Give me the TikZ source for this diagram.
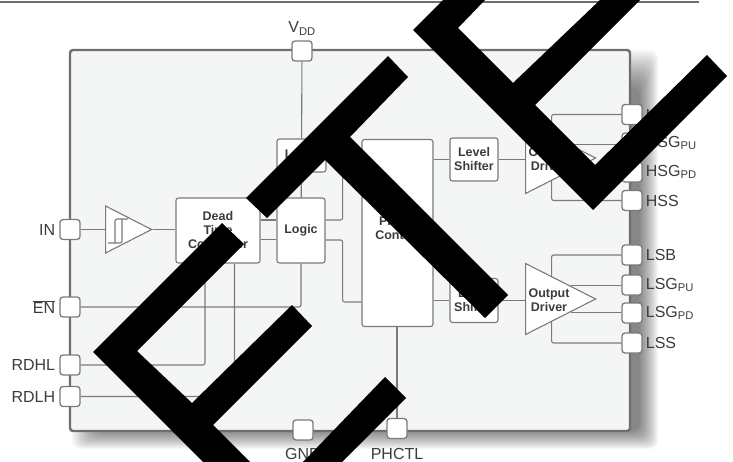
\documentclass[tikz,border=0pt]{standalone}
\usepackage{fontspec}
\setmainfont{Liberation Sans}
\usepackage{xcolor}
\usetikzlibrary{calc, shapes.geometric}
\definecolor{wireclr}{HTML}{7A7A7A}
\definecolor{edgeclr}{HTML}{6E6E6E}
\definecolor{chipclr}{HTML}{F4F6F5}
\definecolor{textclr}{HTML}{3C3C3C}
\tikzset{
  wire/.style={draw=wireclr, line width=1.1pt, rounded corners=2pt},
  pad/.style={draw=wireclr, fill=white, line width=1.3pt, rounded corners=3pt, inner sep=0pt, minimum width=20pt, minimum height=20pt},
  block/.style={draw=wireclr, fill=white, line width=1.1pt, rounded corners=2.5pt, inner sep=0pt, align=center, text=textclr, font=\fontsize{12.5}{14}\selectfont\bfseries},
  amp/.style={draw=wireclr, fill=white, line width=1.1pt, isosceles triangle, isosceles triangle stretches, inner sep=0pt, anchor=apex},
  amptext/.style={align=center, text=textclr, font=\fontsize{12.5}{14}\selectfont\bfseries},
  lbl/.style={text=textclr, inner sep=0pt, font=\fontsize{16}{18}\selectfont},
}
\begin{document}
\begin{tikzpicture}[x=1pt, y=-1pt]
    \useasboundingbox (0,0) rectangle (733,462);
    \coordinate (ruleL) at (0,2);
    \coordinate (ruleR) at (699,2);
    \draw[edgeclr, line width=2pt] (ruleL) -- (ruleR);
    % package
    \foreach \i in {0,...,19} {
      \fill[black, opacity=0.03, rounded corners=8pt] (72+1.5*\i,50+2*\i) rectangle (658-\i,449-\i);
    }
    \node[draw=edgeclr, fill=chipclr, line width=2.4pt, rounded corners=3pt, minimum width=560pt, minimum height=381pt, inner sep=0pt] (chip) at (350,240.5) {};
    % blocks
    \node[block, minimum width=84pt, minimum height=65pt] (dead) at (218,230.5) {Dead\\Time\\Controller};
    \node[block, minimum width=48pt, minimum height=65pt] (logicb) at (301,230.5) {Logic};
    \node[block, minimum width=49pt, minimum height=33pt] (logict) at (301.5,155.5) {Logic};
    \node[block, minimum width=71pt, minimum height=187pt] (ctrl) at (397.5,233) {};
    \node[amptext] (ctrlt) at (397.5,228.5) {Phase\\Control};
    \node[block, minimum width=48pt, minimum height=43pt] (shiftu) at (474,159.5) {Level\\Shifter};
    \node[block, minimum width=48pt, minimum height=44pt] (shiftl) at (474,300.5) {Level\\Shifter};
    % triangles
    \node[amp, minimum width=47pt, minimum height=46pt] (schmitt) at (153,229.5) {};
    \node[amp, minimum width=71pt, minimum height=70pt] (drvu) at (597,158) {};
    \node[amp, minimum width=71pt, minimum height=70pt] (drvl) at (597,299) {};
    \node[amptext] (drvut) at (549,159) {Output\\Driver};
    \node[amptext] (drvlt) at (549,300) {Output\\Driver};
    \draw[wire] (108,243) -- (122,243) -- (122,219);
    \draw[wire] (128,219) -- (115,219) -- (115,243);
    % pads on the left and right
    \foreach \n/\y/\t in {in/229.5/IN, en/307/$\overline{\mbox{EN}}$, rdhl/365/RDHL, rdlh/396.5/RDLH} {
      \node[pad] (\n) at (70,\y) {};
      \node[lbl, anchor=east] (\n t) at ([xshift=-4pt]\n.west) {\t};
    }
    \foreach \n/\y/\t in {hsb/114.5/HSB, hsgpu/143/HSG\textsubscript{PU}, hsgpd/172/HSG\textsubscript{PD}, hss/200.5/HSS, lsb/255/LSB, lsgpu/285/LSG\textsubscript{PU}, lsgpd/313/LSG\textsubscript{PD}, lss/343/LSS} {
      \node[pad] (\n) at (632,\y) {};
      \node[lbl, anchor=west] (\n t) at ([xshift=3pt]\n.east) {\t};
    }
    \node[pad] (vdd) at (302,51) {};
    \node[lbl, anchor=south] (vddt) at ([yshift=5pt]vdd.north) {V\textsubscript{DD}};
    \node[pad] (gnd) at (303,430) {};
    \node[lbl] (gndt) at (303,454) {GND};
    \node[pad] (phctl) at (397,428.5) {};
    \node[lbl] (phctlt) at (397,454) {PHCTL};
    % connections
    \draw[wire] (vdd) -- (logict);
    \draw[wire] (logict) -- (logicb);
    \draw[wire] (in) -- (schmitt.west);
    \draw[wire] (schmitt.apex) -- (dead.west |- schmitt.apex);
    \draw[wire] ([yshift=10.5pt]dead.east) -- ([yshift=10.5pt]logicb.west);
    \draw[wire] ([yshift=-9pt]dead.east) -- ([yshift=-9pt]logicb.west);
    \draw[wire] ([yshift=10.5pt]logicb.east) -- ++(17pt,0) |- ([yshift=68pt]ctrl.west);
    \draw[wire] ([yshift=-9.5pt]logicb.east) -- ++(17pt,0) |- ([yshift=-69pt]ctrl.west);
    \draw[wire] (en) -| (logicb);
    \draw[wire] (rdhl) -| ([xshift=-13pt]dead.south);
    \draw[wire] (rdlh) -| ([xshift=16.5pt]dead.south);
    \draw[wire] (phctl) -- (ctrl.south -| phctl);
    \draw[wire] (ctrl.east |- shiftu) -- (shiftu);
    \draw[wire] (ctrl.east |- shiftl) -- (shiftl);
    \draw[wire] (shiftu) -- (shiftu -| drvu.left corner);
    \draw[wire] (shiftl) -- (shiftl -| drvl.left corner);
    \foreach \d/\a/\b/\c/\e in {drvu/hsb/hsgpu/hsgpd/hss, drvl/lsb/lsgpu/lsgpd/lss} {
      \coordinate (\d a) at ($(\d.left corner)!0.37!(\d.apex)$);
      \coordinate (\d b) at ($(\d.left corner)!0.64!(\d.apex)$);
      \coordinate (\d c) at ($(\d.right corner)!0.64!(\d.apex)$);
      \coordinate (\d e) at ($(\d.right corner)!0.37!(\d.apex)$);
      \draw[wire] (\a) -| (\d a);
      \draw[wire] (\b.west |- \d b) -- (\d b);
      \draw[wire] (\c.west |- \d c) -- (\d c);
      \draw[wire] (\e) -| (\d e);
    }
    % black strokes on top
    \fill[black] (93,352) -- (222,223) -- (244,244) -- (137,351) -- (192,403) -- (292,305) -- (312,326) -- (213,425) -- (250,462) -- (203,462) -- cycle;
    \fill[black] (303,462) -- (385,377) -- (406,398) -- (342,462) -- cycle;
    \fill[black] (246,198) -- (388,56) -- (408,77) -- (350,137) -- (508,295) -- (485,318) -- (325,160) -- (267,218) -- cycle;
    \fill[black] (413,30) -- (443,0) -- (485,0) -- (458,28) -- (513,83) -- (600,0) -- (640,0) -- (535,105) -- (595,165) -- (707,55) -- (727,76) -- (593,210) -- cycle;
\end{tikzpicture}
\end{document}
